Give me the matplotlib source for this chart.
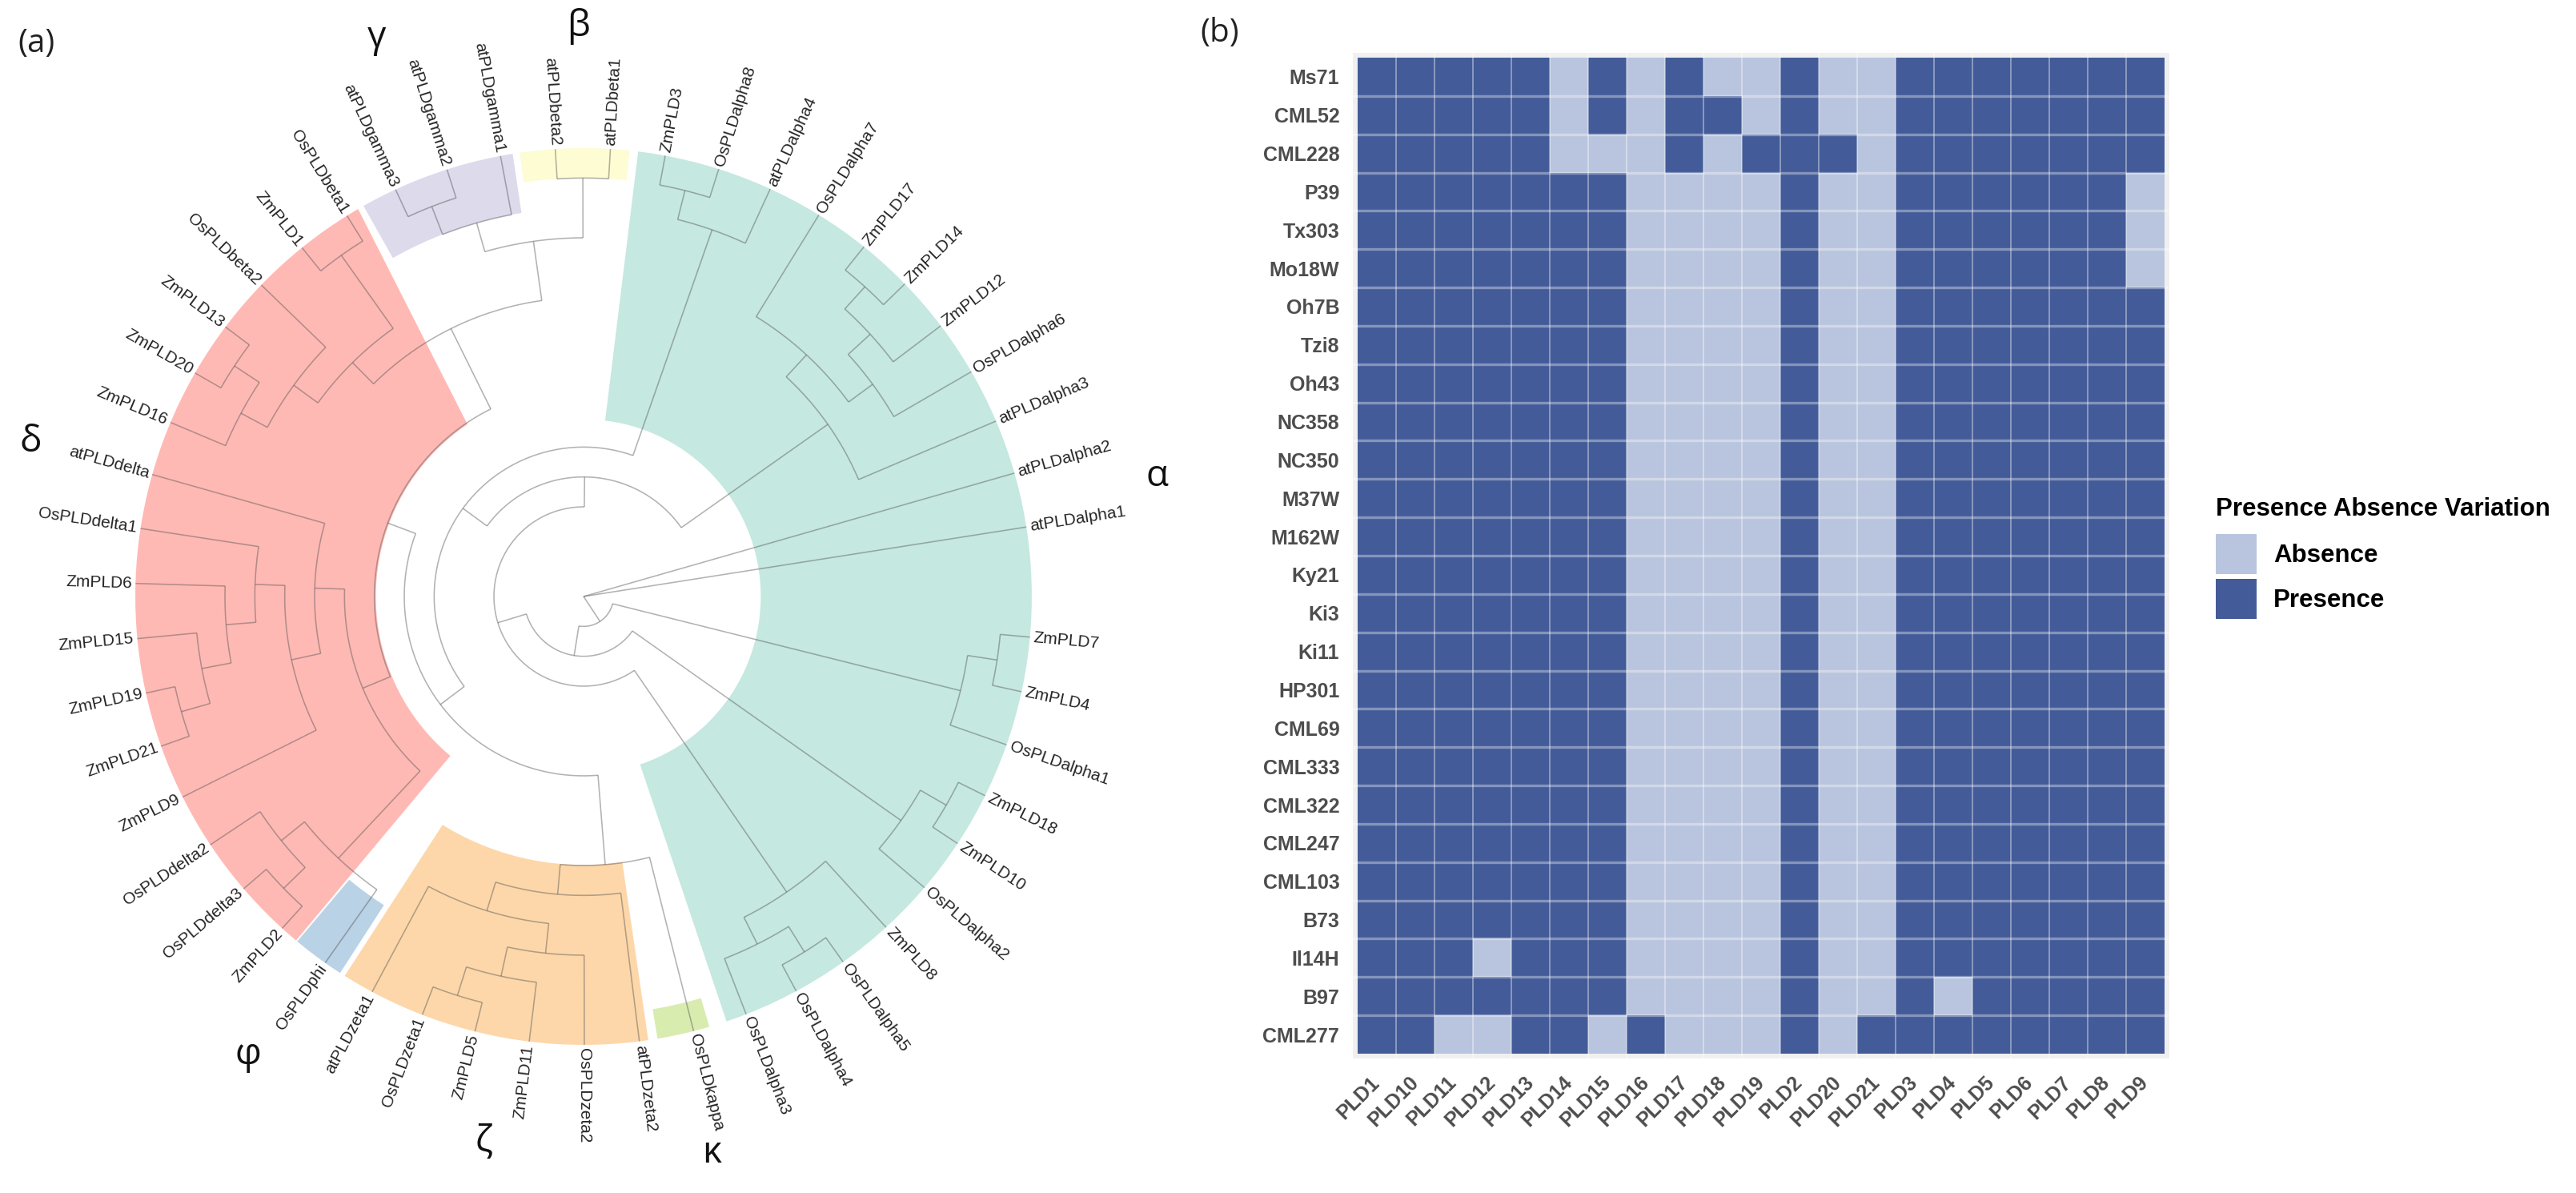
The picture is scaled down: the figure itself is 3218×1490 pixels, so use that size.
import numpy as np
import matplotlib
matplotlib.use("Agg")
import matplotlib.pyplot as plt
from matplotlib.colors import ListedColormap
from matplotlib.patches import Patch

W, H = 3218, 1490
plt.rcParams['font.family'] = ['Liberation Sans', 'DejaVu Sans']

# tips clockwise, starting after the empty slot at the right of the circle
tip_labels = [
    "ZmPLD7", "ZmPLD4", "OsPLDalpha1", "ZmPLD18", "ZmPLD10", "OsPLDalpha2", "ZmPLD8",
    "OsPLDalpha5", "OsPLDalpha4", "OsPLDalpha3", "OsPLDkappa", "atPLDzeta2", "OsPLDzeta2",
    "ZmPLD11", "ZmPLD5", "OsPLDzeta1", "atPLDzeta1", "OsPLDphi", "ZmPLD2", "OsPLDdelta3",
    "OsPLDdelta2", "ZmPLD9", "ZmPLD21", "ZmPLD19", "ZmPLD15", "ZmPLD6", "OsPLDdelta1",
    "atPLDdelta", "ZmPLD16", "ZmPLD20", "ZmPLD13", "OsPLDbeta2", "ZmPLD1", "OsPLDbeta1",
    "atPLDgamma3", "atPLDgamma2", "atPLDgamma1", "atPLDbeta2", "atPLDbeta1", "ZmPLD3",
    "OsPLDalpha8", "atPLDalpha4", "OsPLDalpha7", "ZmPLD17", "ZmPLD14", "ZmPLD12",
    "OsPLDalpha6", "atPLDalpha3", "atPLDalpha2", "atPLDalpha1",
]
first_tip_angle = 95.2
n_slots = 51
tip_level = 15

# tree parts: (level of the node, child, child, ...), a string is a tip
alpha_low = (13, (14, "ZmPLD7", "ZmPLD4"), "OsPLDalpha1")
alpha_mid = (13, (14, "ZmPLD18", "ZmPLD10"), "OsPLDalpha2")
alpha_bot = (12, "ZmPLD8", (13, (14, "OsPLDalpha5", "OsPLDalpha4"), "OsPLDalpha3"))
zeta = (10, "atPLDzeta2", (11, (12, "OsPLDzeta2", (13, "ZmPLD11", (14, "ZmPLD5", "OsPLDzeta1"))), "atPLDzeta1"))
kappa_zeta = (9, "OsPLDkappa", zeta)
phi_delta = (12, "OsPLDphi", (13, (14, "ZmPLD2", "OsPLDdelta3"), "OsPLDdelta2"))
delta = (9, (10, "ZmPLD9", (11, (12, (13, (14, "ZmPLD21", "ZmPLD19"), "ZmPLD15"), "ZmPLD6"), "OsPLDdelta1")), "atPLDdelta")
delta_beta = (11, (12, (13, "ZmPLD16", (14, "ZmPLD20", "ZmPLD13")), "OsPLDbeta2"), (14, "ZmPLD1", "OsPLDbeta1"))
gamma_beta = (12, (13, (14, "atPLDgamma3", "atPLDgamma2"), "atPLDgamma1"), (14, "atPLDbeta2", "atPLDbeta1"))
inner_left = (6, kappa_zeta, (7, (8, phi_delta, delta), (10, delta_beta, gamma_beta)))
alpha_top = (13, (14, "ZmPLD3", "OsPLDalpha8"), "atPLDalpha4")
alpha_right = (10, (11, "OsPLDalpha7", (12, (13, (14, "ZmPLD17", "ZmPLD14"), "ZmPLD12"), "OsPLDalpha6")), "atPLDalpha3")
tree = (0, (1, alpha_low, (2, alpha_mid, (3, alpha_bot, (4, (5, inner_left, alpha_top), alpha_right)))),
        "atPLDalpha2", "atPLDalpha1")

# shaded clades
clade_colors = ["#C5E8E1", "#D9ECB0", "#FDD7A9", "#B9D2E6", "#FFB9B4", "#DCDAEB", "#FDFCD3"]
clade_inner = [5.93, 14.0, 8.98, 12.3, 6.95, 13.0, 14.0]
clade_start = [7.0, 163.7, 171.7, 212.9, 219.9, 330.6, 351.8]
clade_stop_outer = [161.4, 170.5, 212.2, 219.7, 329.8, 350.9, 365.9]
clade_stop_inner = [161.4, 170.5, 211.7, 219.6, 326.0, 350.8, 365.9]

# (pixel x, pixel y) of the greek clade names
greek_names = ["α", "κ", "ζ", "φ", "δ", "γ", "β"]
greek_x = [1445, 889, 605, 310, 38, 471, 722]
greek_y = [595, 1440, 1426, 1317, 552, 47, 33]

# heatmap
pld_genes = ["PLD1", "PLD10", "PLD11", "PLD12", "PLD13", "PLD14", "PLD15", "PLD16", "PLD17", "PLD18",
             "PLD19", "PLD2", "PLD20", "PLD21", "PLD3", "PLD4", "PLD5", "PLD6", "PLD7", "PLD8", "PLD9"]
maize_lines = ["Ms71", "CML52", "CML228", "P39", "Tx303", "Mo18W", "Oh7B", "Tzi8", "Oh43", "NC358",
               "NC350", "M37W", "M162W", "Ky21", "Ki3", "Ki11", "HP301", "CML69", "CML333", "CML322",
               "CML247", "CML103", "B73", "Il14H", "B97", "CML277"]
# 1 = presence, 0 = absence
pav_rows = [
    "111110101001001111111",
    "111110101101001111111",
    "111110001011101111111",
    "111111100001001111110",
    "111111100001001111110",
    "111111100001001111110",
    "111111100001001111111",
    "111111100001001111111",
    "111111100001001111111",
    "111111100001001111111",
    "111111100001001111111",
    "111111100001001111111",
    "111111100001001111111",
    "111111100001001111111",
    "111111100001001111111",
    "111111100001001111111",
    "111111100001001111111",
    "111111100001001111111",
    "111111100001001111111",
    "111111100001001111111",
    "111111100001001111111",
    "111111100001001111111",
    "111111100001001111111",
    "111011100001001111111",
    "111111100001001011111",
    "110011010001011111111",
]
absent_color = "#B9C5DE"
present_color = "#435B98"


def tip_angle(name):
    return first_tip_angle + tip_labels.index(name) * 360.0 / n_slots


def node_angle(node):
    if isinstance(node, str):
        return tip_angle(node)
    angles = [node_angle(c) for c in node[1:]]
    return (min(angles) + max(angles)) / 2


def node_level(node):
    return tip_level if isinstance(node, str) else node[0]


def draw_branch(ax, a, level):
    ax.plot(np.radians(a), level, color="#555555", alpha=0.45, lw=1.15, solid_capstyle="butt")


def draw_tree(ax, node):
    if isinstance(node, str):
        return
    angles = [node_angle(c) for c in node[1:]]
    arc = np.linspace(min(angles), max(angles), 60)
    draw_branch(ax, arc, np.full(60, node[0]))
    for child, a in zip(node[1:], angles):
        draw_branch(ax, np.array([a, a]), np.array([node[0], node_level(child)]))
        draw_tree(ax, child)


def pixel_text(x, y, s, **kw):
    fig.text(x / W, 1 - y / H, s, ha="center", va="center", **kw)


fig = plt.figure(figsize=(W / 100, H / 100), dpi=100)

# (a) circular tree, centre at pixel (729, 745), one level is 37.33 px
r_px = 16 * 37.33
ax = fig.add_axes([(729 - r_px) / W, 1 - (745 + r_px) / H, 2 * r_px / W, 2 * r_px / H], projection="polar")
ax.set_theta_zero_location("N")
ax.set_theta_direction(-1)
ax.set_rlim(0, 16)
ax.set_axis_off()

for color, inner, a0, a1, a2 in zip(clade_colors, clade_inner, clade_start, clade_stop_outer, clade_stop_inner):
    outer_arc = np.linspace(a0, a1, 80)
    inner_arc = np.linspace(a2, a0, 80)
    th = np.radians(np.concatenate([outer_arc, inner_arc]))
    rr = np.concatenate([np.full(80, tip_level), np.full(80, inner)])
    ax.fill(th, rr, color=color, lw=0, zorder=1)

draw_tree(ax, tree)

for name in tip_labels:
    a = tip_angle(name) % 360
    if a <= 180.5:
        ax.text(np.radians(a), tip_level + 0.12, name, rotation=90 - a, rotation_mode="anchor",
                ha="left", va="center", fontsize=15, color="#262626")
    else:
        ax.text(np.radians(a), tip_level + 0.12, name, rotation=270 - a, rotation_mode="anchor",
                ha="right", va="center", fontsize=15, color="#262626")

for s, x, y in zip(greek_names, greek_x, greek_y):
    pixel_text(x, y, s, fontsize=33, family=["Open Sans", "DejaVu Sans"], color="#111111")

pixel_text(45, 55, "(a)", fontsize=29, family=["Open Sans", "DejaVu Sans"], color="#222222")
pixel_text(1524, 42, "(b)", fontsize=29, family=["Open Sans", "DejaVu Sans"], color="#222222")

# (b) presence absence heatmap
hx = fig.add_axes([1690 / W, 1 - 1322 / H, 1020 / W, 1256 / H])
hx.set_facecolor("#F0F0F0")
values = np.array([[int(c) for c in row] for row in pav_rows])
hx.pcolormesh(np.arange(len(pld_genes) + 1), np.arange(len(maize_lines) + 1), values,
              cmap=ListedColormap([absent_color, present_color]), vmin=0, vmax=1)
for i in range(1, len(pld_genes)):
    hx.axvline(i, color="white", alpha=0.45, lw=1.2)
for j in range(1, len(maize_lines)):
    hx.axhline(j, color="white", alpha=0.35, lw=2.4)
hx.set_xlim(-0.125, len(pld_genes) + 0.125)
hx.set_ylim(len(maize_lines) + 0.125, -0.125)
for side in hx.spines.values():
    side.set_visible(False)
hx.set_xticks(np.arange(len(pld_genes)) + 0.5)
hx.set_yticks(np.arange(len(maize_lines)) + 0.5)
hx.set_xticklabels(pld_genes, rotation=45, ha="right", va="center", rotation_mode="anchor",
                   fontsize=18, fontweight="bold", color="#4D4D4D")
hx.set_yticklabels(maize_lines, fontsize=18, fontweight="bold", color="#4D4D4D")
hx.tick_params(axis="x", length=0, pad=19)
hx.tick_params(axis="y", length=0, pad=12)

handles = [Patch(facecolor=absent_color, edgecolor="none"), Patch(facecolor=present_color, edgecolor="none")]
leg = fig.legend(handles, ["Absence", "Presence"], title="Presence Absence Variation",
                 loc="upper left", bbox_to_anchor=(2768 / W, 1 - 621 / H), frameon=False,
                 fontsize=22.5, handlelength=1.63, handleheight=2.085, handletextpad=0.67,
                 labelspacing=0.19, borderpad=0, borderaxespad=0, alignment="left",
                 title_fontproperties={"size": 22.5, "weight": "bold"})
for t in leg.get_texts():
    t.set_fontweight("bold")
# more room under the legend title
leg._legend_box.sep = 11.5

fig.savefig("out.png", dpi=100)
